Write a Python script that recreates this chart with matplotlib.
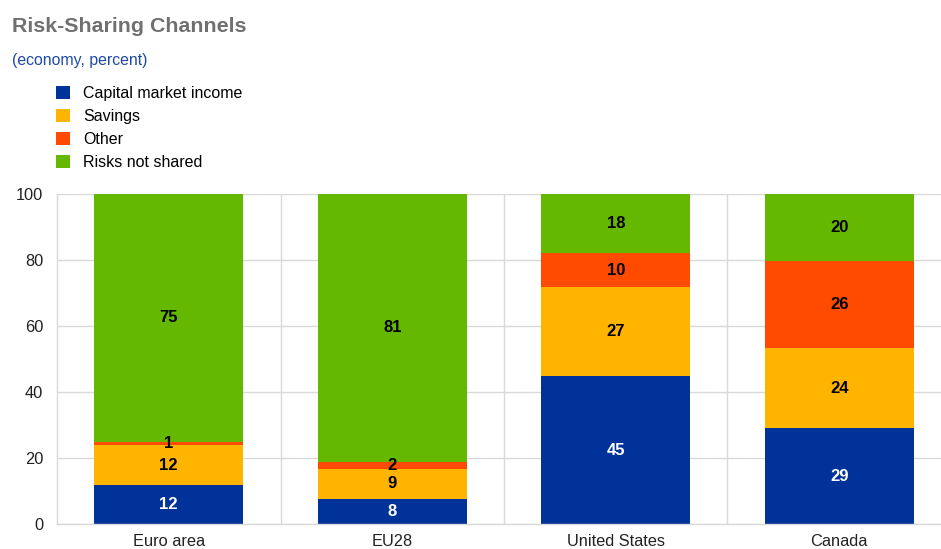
import matplotlib

matplotlib.use("Agg")
import matplotlib.pyplot as plt
import numpy as np
from matplotlib.patches import Patch

plt.rcParams["font.family"] = ["Liberation Sans", "DejaVu Sans"]

# data (percent)
regions = ["Euro area", "EU28", "United States", "Canada"]
series_names = ["Capital market income", "Savings", "Other", "Risks not shared"]
capital_market = [11.7, 7.7, 44.8, 29.0]
savings = [12.2, 9.1, 27.1, 24.2]
other = [1.0, 2.0, 10.1, 26.4]
not_shared = [75.1, 81.2, 18.0, 20.4]
y_ticks = [0, 20, 40, 60, 80, 100]

colors = ["#003299", "#FFB400", "#FF4B00", "#65B800"]
label_colors = ["white", "black", "black", "black"]
grid_color = "#d9d9d9"

fig = plt.figure(figsize=(9.41, 5.49), dpi=100)
ax = fig.add_axes([57 / 941, 25 / 549, 894 / 941, 330 / 549])

x = np.arange(len(regions))
bottom = np.zeros(len(regions))
for name, vals, col, lcol in zip(series_names, [capital_market, savings, other, not_shared],
                                  colors, label_colors):
    vals = np.array(vals)
    ax.bar(x, vals, width=0.667, bottom=bottom, color=col, label=name, zorder=2)
    for xi, b, v in zip(x, bottom, vals):
        ax.text(xi, b + v / 2, f"{v:.0f}", ha="center", va="center", color=lcol,
                fontsize=12, fontweight="bold", zorder=3)
    bottom += vals

ax.set_xlim(-0.5, len(regions) - 0.5)
ax.set_ylim(0, 100)
ax.set_yticks(y_ticks)
ax.set_xticks(x)
ax.set_xticklabels(regions)
ax.tick_params(axis="both", length=0, labelsize=11.8, colors="#222222")
ax.tick_params(axis="y", pad=10)
ax.tick_params(axis="x", pad=7)

# horizontal grid plus vertical separators between categories
ax.yaxis.grid(True, color=grid_color, linewidth=1, zorder=0)
for b in np.arange(0.5, len(regions) - 0.5, 1):
    ax.axvline(b, color=grid_color, linewidth=1, zorder=0)
for side in ["top", "right"]:
    ax.spines[side].set_visible(False)
for side in ["left", "bottom"]:
    ax.spines[side].set_color(grid_color)
    ax.spines[side].set_linewidth(1)

fig.text(12 / 941, 1 - 26 / 549, "Risk-Sharing Channels", fontsize=15.4, fontweight="bold",
         color="#707070", va="center", ha="left")
fig.text(12 / 941, 1 - 61 / 549, "(economy, percent)", fontsize=11.4, color="#1f4aa8",
         va="center", ha="left")

handles = [Patch(facecolor=c, edgecolor="none") for c in colors]
fig.legend(handles, series_names, loc="upper left", bbox_to_anchor=(56 / 941, 1 - 86 / 549),
           frameon=False, fontsize=11.5, handlelength=0.85, handleheight=0.85,
           handletextpad=0.85, labelspacing=0.5, borderpad=0, borderaxespad=0)

fig.savefig("out.png", dpi=100)
